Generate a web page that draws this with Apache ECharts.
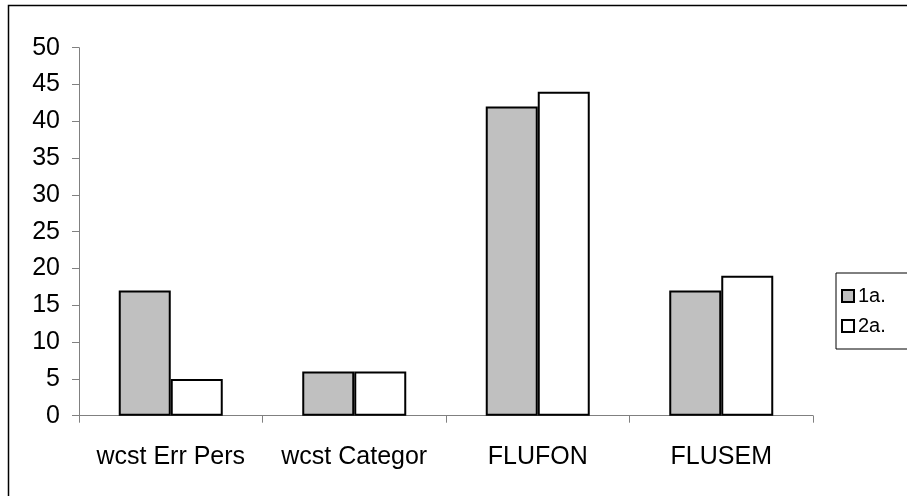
<!DOCTYPE html>
<html>
<head>
<meta charset="utf-8">
<script src="https://cdn.jsdelivr.net/npm/echarts@6/dist/echarts.min.js"></script>
<style>
html,body{margin:0;padding:0;background:#fff;}
#c{width:907px;height:496px;}
</style>
</head>
<body>
<div id="c"></div>
<script>
var categories = ['wcst Err Pers', 'wcst Categor', 'FLUFON', 'FLUSEM'];
var series1a = [17, 6, 42, 17];
var series2a = [5, 6, 44, 19];
var seriesNames = ['1a.', '2a.'];
var yTicks = [0, 5, 10, 15, 20, 25, 30, 35, 40, 45, 50];

var chart = echarts.init(document.getElementById('c'), null, {renderer: 'canvas'});
var font = 'Liberation Sans, Arial, sans-serif';
chart.setOption({
  animation: false,
  backgroundColor: '#fff',
  graphic: [{
    type: 'rect',
    shape: {x: 8.5, y: 5.5, width: 1000, height: 1000},
    style: {fill: 'none', stroke: '#000', lineWidth: 1.5},
    silent: true, z: -10
  }],
  grid: {left: 79, right: 94, top: 47.7, bottom: 80.3},
  legend: {
    orient: 'vertical',
    left: 836, top: 273,
    padding: [12, 40, 12, 5],
    itemGap: 8,
    itemWidth: 12, itemHeight: 12,
    borderColor: '#000', borderWidth: 1,
    backgroundColor: '#fff',
    icon: 'rect',
    textStyle: {fontFamily: font, fontSize: 20, lineHeight: 22, color: '#000', padding: [0, 0, 0, -1]},
    data: seriesNames
  },
  xAxis: {
    type: 'category',
    data: categories,
    axisLine: {lineStyle: {color: '#808080', width: 1}},
    axisTick: {show: true, length: 7, lineStyle: {color: '#808080'}},
    axisLabel: {fontFamily: font, fontSize: 25, color: '#000', margin: 29,
      interval: 0, hideOverlap: false},
    splitLine: {show: false}
  },
  yAxis: {
    type: 'value',
    min: 0, max: 50, interval: 5,
    axisLine: {show: true, lineStyle: {color: '#808080', width: 1}},
    axisTick: {show: true, length: 7, lineStyle: {color: '#808080'}},
    axisLabel: {fontFamily: font, fontSize: 25, color: '#000', margin: 19,
      formatter: function (v) { return yTicks.indexOf(v) >= 0 ? String(v) : ''; }},
    splitLine: {show: false}
  },
  series: [{
    name: seriesNames[0], type: 'bar', data: series1a,
    barWidth: 52, barGap: '0%',
    itemStyle: {color: '#C0C0C0', borderColor: '#000', borderWidth: 2}
  }, {
    name: seriesNames[1], type: 'bar', data: series2a,
    barWidth: 52, barGap: '0%',
    itemStyle: {color: '#FFFFFF', borderColor: '#000', borderWidth: 2}
  }]
});
</script>
</body>
</html>
